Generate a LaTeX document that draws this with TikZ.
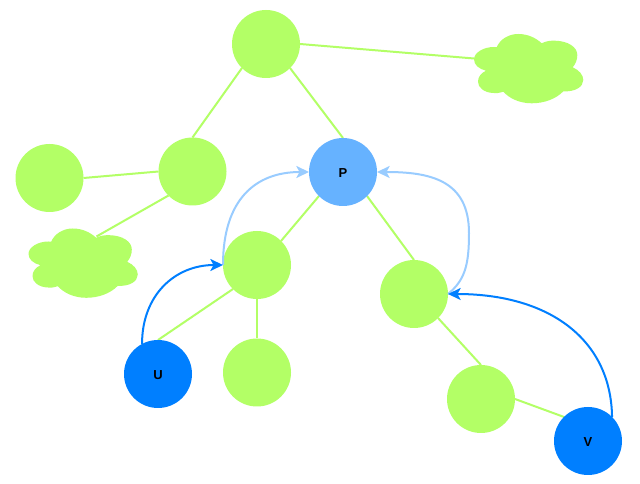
\documentclass[tikz,border=0pt]{standalone}
\usepackage{fontspec}
\setmainfont{Liberation Sans}
\usetikzlibrary{arrows.meta,backgrounds}
\definecolor{leafgreen}{HTML}{B3FF66}
\definecolor{midblue}{HTML}{66B2FF}
\definecolor{deepblue}{HTML}{007FFF}
\definecolor{paleblue}{HTML}{99CCFF}
\newcommand{\balltext}[1]{\raisebox{-0.75pt}[\height][0pt]{#1}}
\tikzset{
  ball/.style={circle,minimum size=51pt,inner sep=0pt,outer sep=0pt,fill=#1,font=\bfseries\fontsize{9.75}{11}\selectfont},
  ball/.default=leafgreen,
  link/.style={draw=leafgreen,line width=1.5pt},
  hop/.style={line width=1.5pt,-{Stealth[length=9.5pt,width=9pt,inset=2.4pt]}},
  blob/.pic={
    \fill[leafgreen] (-31.3,-21.7)
      .. controls (-28,-30) and (-19,-35) .. (-9.7,-35)
      .. controls (0,-35) and (8,-31) .. (13.7,-25.7)
      .. controls (18,-28) and (23,-28.5) .. (27,-28.3)
      .. controls (40,-28) and (49.3,-22) .. (49.3,-14)
      .. controls (49.3,-9) and (47.5,-5) .. (44.7,-1.7)
      .. controls (51,1) and (55.3,6) .. (55.3,11)
      .. controls (55.3,18) and (47,23) .. (35.3,22.3)
      .. controls (28,30) and (16,34.3) .. (3.7,34.3)
      .. controls (-9,34.3) and (-19,29) .. (-24.7,22.7)
      .. controls (-29,24) and (-32,24.5) .. (-35,24)
      .. controls (-44,23.5) and (-50,18.5) .. (-50,12.7)
      .. controls (-50,8) and (-47,4) .. (-42,1.7)
      .. controls (-49,0) and (-54,-4) .. (-54,-9.7)
      .. controls (-54,-16) and (-45,-22) .. (-34,-22)
      .. controls (-33,-22) and (-32,-21.9) .. (-31.3,-21.7) -- cycle;
    \coordinate (-left) at (-54,-10.5);
    \coordinate (-top) at (14,-27);
  }
}
\begin{document}
\begin{tikzpicture}[x=0.75pt,y=-0.75pt]
  \useasboundingbox (0,0) rectangle (640,484);

  % tree nodes
  \node[ball] (root) at (266,44) {};
  \node[ball] (left) at (192.5,171.5) {};
  \node[ball] (far) at (49.5,178) {};
  \node[ball=midblue] (P) at (343,172) {\balltext{P}};
  \node[ball] (mid) at (257,265) {};
  \node[ball] (right) at (414,294) {};
  \node[ball=deepblue] (U) at (158,374) {\balltext{U}};
  \node[ball] (low) at (257,372.5) {};
  \node[ball] (tail) at (481,399) {};
  \node[ball=deepblue] (V) at (588,441) {\balltext{V}};

  % subtree placeholders
  \pic (skyA) at (528,69) {blob};
  \pic (skyB) at (82.5,263.5) {blob};

  % tree edges, beneath the nodes
  \begin{scope}[on background layer]
    \fill[white] (0,0) rectangle (640,484);
    \draw[link] (root.east) -- (skyA-left);
    \draw[link] (root.225) -- (left.north);
    \draw[link] (root.-45) -- (P.north);
    \draw[link] (left.west) -- (far.east);
    \draw[link] (left.225) -- (skyB-top);
    \draw[link] (P.225) -- (mid.45);
    \draw[link] (P.-45) -- (right.north);
    \draw[link] (mid.225) -- (U.north);
    \draw[link] (mid.south) -- (low.north);
    \draw[link] (right.-45) -- (tail.north);
    \draw[link] (tail.east) -- (V.135);
  \end{scope}

  % pointer hops
  \draw[hop,paleblue] (mid.west) .. controls (223,200) and (255,172) .. (P.west);
  \draw[hop,paleblue] (right.east) .. controls (465,280) and (469,265) .. (469,233)
    .. controls (469,180) and (430,172) .. (P.east);
  \draw[hop,deepblue] (U.118) .. controls (142,295) and (175,265) .. (mid.west);
  \draw[hop,deepblue] (V.45) .. controls (611,340) and (550,294) .. (right.east);
\end{tikzpicture}
\end{document}
